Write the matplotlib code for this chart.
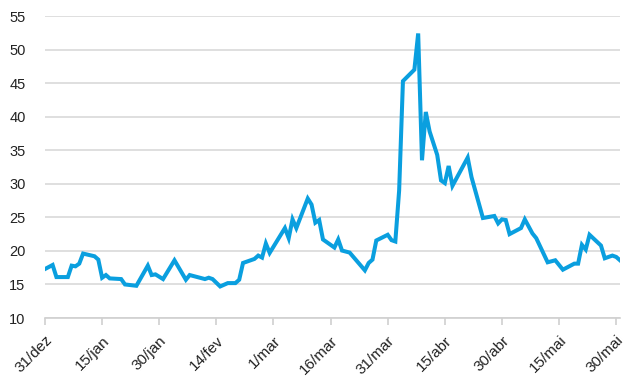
import matplotlib
matplotlib.use("Agg")
import matplotlib.pyplot as plt
import pandas as pd

plt.rcParams['font.family'] = ['Liberation Sans', 'DejaVu Sans']

dates = [
    "2020-12-31", "2021-01-02", "2021-01-03", "2021-01-06", "2021-01-07", "2021-01-08",
    "2021-01-09", "2021-01-10", "2021-01-13", "2021-01-14", "2021-01-15", "2021-01-16",
    "2021-01-17", "2021-01-20", "2021-01-21", "2021-01-24", "2021-01-27", "2021-01-28",
    "2021-01-29", "2021-01-31", "2021-02-03", "2021-02-06", "2021-02-07", "2021-02-11",
    "2021-02-12", "2021-02-13", "2021-02-15", "2021-02-17", "2021-02-19", "2021-02-20",
    "2021-02-21", "2021-02-24", "2021-02-25", "2021-02-26", "2021-02-27", "2021-02-28",
    "2021-03-04", "2021-03-05", "2021-03-06", "2021-03-07", "2021-03-10", "2021-03-11",
    "2021-03-12", "2021-03-13", "2021-03-14", "2021-03-17", "2021-03-18", "2021-03-19",
    "2021-03-21", "2021-03-25", "2021-03-26", "2021-03-27", "2021-03-28", "2021-03-31",
    "2021-04-01", "2021-04-02", "2021-04-03", "2021-04-04", "2021-04-07", "2021-04-08",
    "2021-04-09", "2021-04-10", "2021-04-11", "2021-04-13", "2021-04-14", "2021-04-15",
    "2021-04-16", "2021-04-17", "2021-04-21", "2021-04-22", "2021-04-25", "2021-04-28",
    "2021-04-29", "2021-04-30", "2021-05-01", "2021-05-02", "2021-05-05", "2021-05-06",
    "2021-05-08", "2021-05-09", "2021-05-12", "2021-05-14", "2021-05-16", "2021-05-19",
    "2021-05-20", "2021-05-21", "2021-05-22", "2021-05-23", "2021-05-26", "2021-05-27",
    "2021-05-29", "2021-05-30", "2021-05-31",
]
values = [
    17.3, 17.9, 16.1, 16.1, 17.8, 17.7,
    18.1, 19.6, 19.2, 18.7, 16.0, 16.4,
    15.9, 15.8, 15.0, 14.8, 17.8, 16.4,
    16.5, 15.8, 18.6, 15.7, 16.4, 15.8,
    16.0, 15.8, 14.7, 15.2, 15.2, 15.7,
    18.2, 18.8, 19.3, 19.0, 21.1, 19.7,
    23.4, 21.9, 24.7, 23.4, 27.8, 26.9,
    24.2, 24.6, 21.7, 20.5, 21.7, 20.05,
    19.75, 17.1, 18.2, 18.7, 21.55, 22.4,
    21.6, 21.4, 29.0, 45.3, 47.0, 52.4,
    33.5, 40.7, 37.8, 34.3, 30.5, 30.1,
    32.65, 29.7, 33.9, 31.0, 24.9, 25.2,
    24.1, 24.7, 24.6, 22.5, 23.4, 24.7,
    22.6, 21.9, 18.3, 18.6, 17.2, 18.1,
    18.1, 20.9, 20.2, 22.4, 20.8, 18.9,
    19.3, 19.1, 18.6,
]
tick_dates = ["2020-12-31", "2021-01-15", "2021-01-30", "2021-02-14", "2021-03-01",
              "2021-03-16", "2021-03-31", "2021-04-15", "2021-04-30", "2021-05-15",
              "2021-05-30"]
tick_labels = ["31/dez", "15/jan", "30/jan", "14/fev", "1/mar", "16/mar", "31/mar",
               "15/abr", "30/abr", "15/mai", "30/mai"]
y_ticks = [10, 15, 20, 25, 30, 35, 40, 45, 50, 55]

x = pd.to_datetime(dates)
fig = plt.figure(figsize=(6.29, 3.82), dpi=100)
ax = fig.add_axes([45/629, 1-318/382, (620-45)/629, (318-16)/382])

ax.plot(x, values, color="#0A9FDF", lw=2.9, solid_joinstyle="miter", zorder=3)

ax.set_ylim(10, 55)
ax.set_yticks(y_ticks)
ax.set_xlim(pd.Timestamp("2020-12-31"), pd.Timestamp("2021-05-31"))
ax.set_xticks(pd.to_datetime(tick_dates))
ax.set_xticklabels(tick_labels, rotation=45, ha="right", rotation_mode="anchor")

ax.grid(axis="y", color="#D9D9D9", lw=1.2, zorder=0)
ax.set_axisbelow(True)
for s in ["top", "right", "left"]:
    ax.spines[s].set_visible(False)
ax.spines["bottom"].set_color("#D0D0D0")
ax.spines["bottom"].set_linewidth(1.2)
ax.tick_params(axis="y", length=0, pad=14, labelsize=10.5, labelcolor="#222222")
ax.tick_params(axis="x", length=5, width=1.2, color="#D0D0D0", pad=6, labelsize=11,
               labelcolor="#222222")

fig.savefig("out.png", dpi=100)
